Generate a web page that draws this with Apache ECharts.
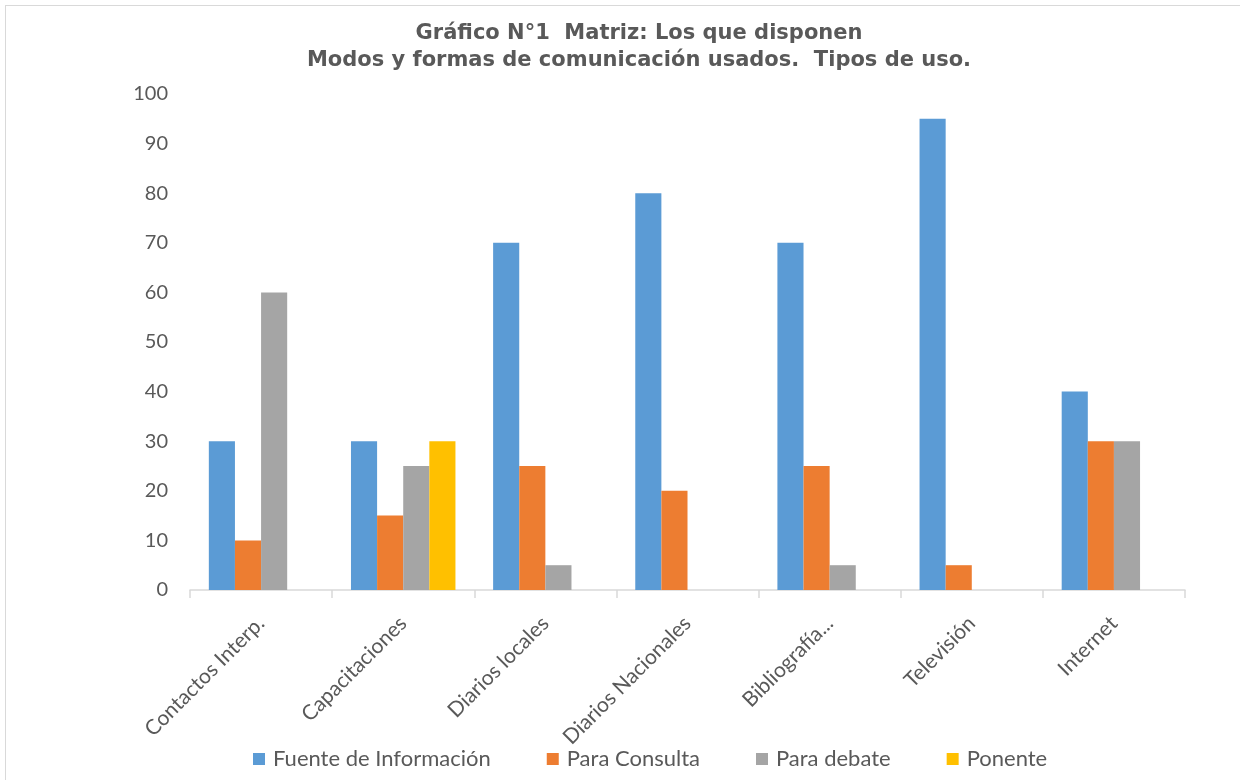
<!DOCTYPE html>
<html>
<head>
<meta charset="utf-8">
<title>Gráfico N°1</title>
<script src="https://cdn.jsdelivr.net/npm/echarts@6/dist/echarts.min.js"></script>
<style>
  html, body { margin: 0; padding: 0; background: #fff; }
  #frame {
    position: absolute; left: 5px; top: 5px; width: 1300px; height: 820px;
    border: 1.5px solid #d9d9d9; box-sizing: border-box;
  }
  #chart { position: absolute; left: 0; top: 0; width: 1240px; height: 780px; }
</style>
</head>
<body>
<div id="frame"></div>
<div id="chart"></div>
<script>
// datos
const categorias = ['Contactos Interp.', 'Capacitaciones', 'Diarios locales', 'Diarios Nacionales', 'Bibliografía...', 'Televisión', 'Internet'];
const fuenteInformacion = [30, 30, 70, 80, 70, 95, 40];
const paraConsulta = [10, 15, 25, 20, 25, 5, 30];
const paraDebate = [60, 25, 5, 0, 5, 0, 30];
const ponente = [0, 30, 0, 0, 0, 0, 0];

const colores = ['#5B9BD5', '#ED7D31', '#A5A5A5', '#FFC000'];
const textColor = '#595959';
const fontLabel = 'Lato, "Open Sans", sans-serif';

const chart = echarts.init(document.getElementById('chart'));

const barra = (name, data) => ({
  name: name,
  type: 'bar',
  data: data,
  barGap: '0%',
  barCategoryGap: '26.5%'
});

chart.setOption({
  animation: false,
  color: colores,
  title: {
    text: 'Gráfico N°1  Matriz: Los que disponen\nModos y formas de comunicación usados.  Tipos de uso.',
    left: 634,
    top: 15,
    textAlign: 'center',
    textStyle: {
      fontFamily: '"DejaVu Sans", "Liberation Sans", sans-serif',
      fontWeight: 'bold',
      fontSize: 21,
      lineHeight: 27,
      color: textColor
    }
  },
  legend: {
    left: 248,
    top: 743,
    icon: 'rect',
    itemWidth: 12,
    itemHeight: 12,
    itemGap: 56,
    textStyle: { fontFamily: fontLabel, fontSize: 22, color: textColor, padding: [0, 0, 0, 3] }
  },
  grid: { left: 190, right: 55, top: 94, bottom: 190, containLabel: false },
  xAxis: {
    type: 'category',
    data: categorias,
    axisLine: { lineStyle: { color: '#d9d9d9', width: 1.5 } },
    axisTick: { show: true, length: 8, lineStyle: { color: '#d9d9d9', width: 1.5 } },
    axisLabel: {
      rotate: 45,
      margin: 30,
      interval: 0,
      fontFamily: fontLabel,
      fontSize: 21,
      color: textColor
    }
  },
  yAxis: {
    type: 'value',
    min: 0,
    max: 100,
    interval: 10,
    axisLine: { show: false },
    axisTick: { show: false },
    splitLine: { show: false },
    axisLabel: { margin: 22, fontFamily: fontLabel, fontSize: 20, color: textColor }
  },
  series: [
    barra('Fuente de Información', fuenteInformacion),
    barra('Para Consulta', paraConsulta),
    barra('Para debate', paraDebate),
    barra('Ponente', ponente)
  ]
});
</script>
</body>
</html>
